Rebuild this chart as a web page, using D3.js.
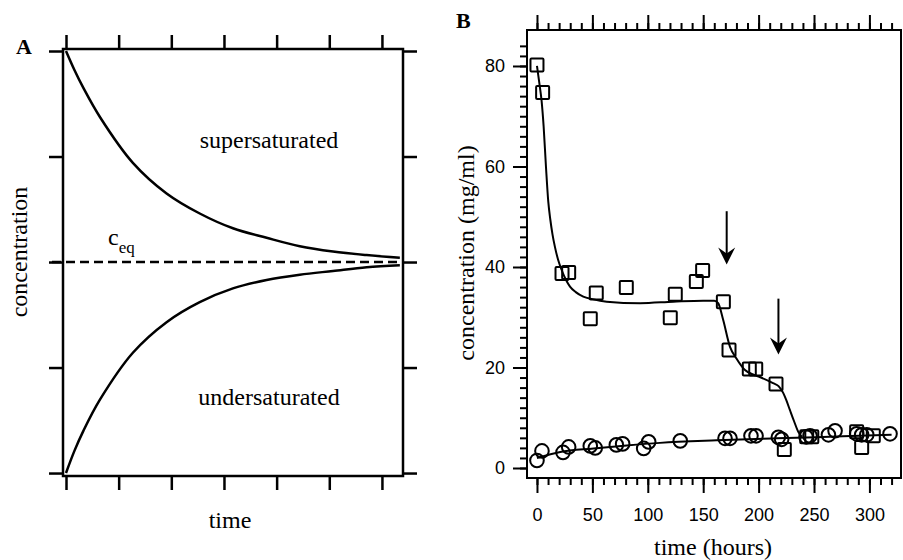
<!DOCTYPE html>
<html>
<head>
<meta charset="utf-8">
<script src="https://cdn.jsdelivr.net/npm/d3@7"></script>
<style>
  body { margin: 0; background: #fff; }
  svg { display: block; background: #fff; }
  .serif { font-family: "Liberation Serif", "Times New Roman", serif; fill: #000; }
  .tick text { font-family: "Liberation Sans", Arial, sans-serif; font-size: 18px; fill: #000; }
  .tick line { stroke: #000; }
</style>
</head>
<body>
<svg id="chart" width="903" height="560"></svg>
<script>
// ---- panel A (schematic) ----
const aTicksX = [0, 1, 2, 3, 4, 5, 6];
const aTicksY = [-2, -1, 0, 1, 2];
const superCurve = [[0, 2.0], [0.16, 1.82], [0.33, 1.65], [0.65, 1.37], [1.27, 0.94], [1.91, 0.65], [2.54, 0.46],
  [3.17, 0.32], [3.81, 0.23], [4.44, 0.15], [5.07, 0.10], [5.71, 0.066], [6.34, 0.04]];
const underCurve = [[0, -2.0], [0.16, -1.79], [0.33, -1.6], [0.65, -1.3], [1.27, -0.86], [1.91, -0.57], [2.54, -0.38],
  [3.17, -0.25], [3.81, -0.17], [4.44, -0.12], [5.07, -0.085], [5.71, -0.05], [6.34, -0.03]];
const ceqLevel = 0;

// ---- panel B (measured), time in hours, concentration in mg/ml ----
const squares = [[0, 80.2], [5.1, 74.7], [22.6, 38.7], [28.6, 38.9], [48.1, 29.7], [53.5, 34.8], [80.6, 35.9],
  [120.3, 29.9], [124.8, 34.6], [143.8, 37.1], [149.5, 39.3], [168.2, 33.1], [173.3, 23.5], [191.6, 19.7],
  [197.4, 19.7], [215.7, 16.7], [223.2, 3.7], [243.4, 6.2], [248, 6.2], [288.5, 7.2], [293, 4.1], [303.5, 6.4]];
const circles = [[0, 1.5], [4.5, 3.4], [23.5, 3.1], [28.6, 4.2], [48.1, 4.4], [52.6, 4.0], [71.6, 4.6], [77.3, 4.8],
  [96.3, 3.9], [100.8, 5.2], [129.3, 5.4], [169.7, 5.9], [174.2, 5.9], [193.1, 6.4], [197.7, 6.4], [217.8, 6.1],
  [220.8, 5.7], [242.8, 6.2], [246.4, 6.4], [263, 6.6], [269, 7.4], [288.5, 6.8], [293, 6.6], [297.6, 6.6], [318.6, 6.8]];
const squareFit = [[0, 80], [2.2, 76.5], [4.2, 73], [6, 68], [8.1, 60], [10.2, 53], [12, 49.5], [14, 46.5],
  [16.2, 44], [19, 41.5], [22.3, 39.4], [26, 37.5], [29.8, 36.1], [35, 35], [41.8, 34.1], [50, 33.6], [62.9, 33.1],
  [93, 32.8], [123, 33.1], [150, 33.3], [160, 33.3], [163.5, 32.8], [168, 29.5], [174.2, 24.1], [180, 21.8],
  [187.7, 19.5], [195, 18.6], [201, 18.1], [213, 16.9], [218, 16.3], [222.3, 14.9], [225, 13.5], [228.3, 11.5],
  [232, 9.3], [235.8, 7.2], [239, 6.2]];
const circleFit = [[0, 2.0], [21, 3.2], [51, 3.9], [81, 4.5], [111, 5.0], [162, 5.5], [216, 5.9], [276, 6.3], [320, 6.6]];
const arrows = [[171.2, 51.1, 40.5], [217.9, 33.7, 22.6]]; // [time, tail, tip]
const bMajorX = [0, 50, 100, 150, 200, 250, 300];
const bMinorX = d3.range(0, 321, 10);
const bMajorY = [0, 20, 40, 60, 80];
const bMinorY = d3.range(0, 85, 2);

const svg = d3.select("#chart");

// ================= panel A =================
const ax = d3.scaleLinear().domain([-0.057, 6.4]).range([63, 403]);
const ay = d3.scaleLinear().domain([-2.028, 2.019]).range([476, 49]);
const gA = svg.append("g");

const axisA = [
  [d3.axisTop(ax), "translate(0,49)", aTicksX],
  [d3.axisBottom(ax), "translate(0,476)", aTicksX],
  [d3.axisLeft(ay), "translate(63,0)", aTicksY],
  [d3.axisRight(ay), "translate(403,0)", aTicksY]
];
axisA.forEach(([axis, tr, vals]) => {
  const g = gA.append("g").attr("transform", tr)
    .call(axis.tickValues(vals).tickSize(14).tickFormat(""));
  g.select(".domain").remove();
  g.selectAll(".tick line").attr("stroke-width", 2.5);
});

// equilibrium level
gA.append("line")
  .attr("x1", 52).attr("x2", ax(6.34))
  .attr("y1", ay(ceqLevel)).attr("y2", ay(ceqLevel))
  .attr("stroke", "#000").attr("stroke-width", 2.5)
  .attr("stroke-dasharray", "9,5");

const lineA = d3.line().x(d => ax(d[0])).y(d => ay(d[1])).curve(d3.curveCatmullRom);
[superCurve, underCurve].forEach(c => {
  gA.append("path").attr("d", lineA(c))
    .attr("fill", "none").attr("stroke", "#000").attr("stroke-width", 2.5);
});

gA.append("rect").attr("x", 63).attr("y", 49).attr("width", 340).attr("height", 427)
  .attr("fill", "none").attr("stroke", "#000").attr("stroke-width", 2.5);

gA.append("text").attr("class", "serif").attr("x", 16).attr("y", 54)
  .attr("font-size", 22).attr("font-weight", "bold").text("A");
gA.append("text").attr("class", "serif").attr("x", 269).attr("y", 148)
  .attr("text-anchor", "middle").attr("font-size", 24).text("supersaturated");
gA.append("text").attr("class", "serif").attr("x", 269).attr("y", 405)
  .attr("text-anchor", "middle").attr("font-size", 24).text("undersaturated");
const ceq = gA.append("text").attr("class", "serif").attr("x", 108).attr("y", 245).attr("font-size", 24);
ceq.append("tspan").text("c");
ceq.append("tspan").attr("font-size", 17).attr("dy", 8).text("eq");
gA.append("text").attr("class", "serif").attr("x", 230).attr("y", 528)
  .attr("text-anchor", "middle").attr("font-size", 24).text("time");
gA.append("text").attr("class", "serif")
  .attr("transform", "translate(27,252) rotate(-90)")
  .attr("text-anchor", "middle").attr("font-size", 24).text("concentration");

// ================= panel B =================
const bx = d3.scaleLinear().domain([-9.0, 328.5]).range([527, 901]);
const by = d3.scaleLinear().domain([-1.99, 87.16]).range([478, 30]);
const gB = svg.append("g");

function tickAxis(axis, tr, vals, size, labels, pad) {
  const g = gB.append("g").attr("transform", tr)
    .call(axis.tickValues(vals).tickSize(size).tickPadding(pad || 3)
      .tickFormat(labels ? d3.format("d") : ""));
  g.select(".domain").remove();
  g.selectAll(".tick line").attr("stroke-width", 2);
  return g;
}
tickAxis(d3.axisBottom(bx), "translate(0,478)", bMinorX, 7, false);
tickAxis(d3.axisBottom(bx), "translate(0,478)", bMajorX, 15, true, 15);
tickAxis(d3.axisTop(bx), "translate(0,30)", bMinorX, 7, false);
tickAxis(d3.axisTop(bx), "translate(0,30)", bMajorX, 15, false);
tickAxis(d3.axisLeft(by), "translate(527,0)", bMinorY, 7, false);
tickAxis(d3.axisLeft(by), "translate(527,0)", bMajorY, 14, true, 8);

const lineB = d3.line().x(d => bx(d[0])).y(d => by(d[1])).curve(d3.curveMonotoneX);
[squareFit, circleFit].forEach(c => {
  gB.append("path").attr("d", lineB(c))
    .attr("fill", "none").attr("stroke", "#000").attr("stroke-width", 2);
});

gB.selectAll(".sq").data(squares).enter().append("rect")
  .attr("class", "sq")
  .attr("x", d => bx(d[0]) - 6.5).attr("y", d => by(d[1]) - 6.5)
  .attr("width", 13).attr("height", 13).attr("rx", 1)
  .attr("fill", "none").attr("stroke", "#000").attr("stroke-width", 2);

gB.selectAll(".ci").data(circles).enter().append("circle")
  .attr("class", "ci")
  .attr("cx", d => bx(d[0])).attr("cy", d => by(d[1])).attr("r", 6.8)
  .attr("fill", "none").attr("stroke", "#000").attr("stroke-width", 2);

arrows.forEach(([t, c0, c1]) => {
  const x = bx(t), y0 = by(c0), y1 = by(c1);
  gB.append("line").attr("x1", x).attr("x2", x).attr("y1", y0).attr("y2", y1 - 8)
    .attr("stroke", "#000").attr("stroke-width", 2);
  gB.append("path")
    .attr("d", `M${x},${y1} L${x - 8.5},${y1 - 17} L${x},${y1 - 11} L${x + 8.5},${y1 - 17} Z`)
    .attr("fill", "#000");
});

gB.append("rect").attr("x", 527).attr("y", 30).attr("width", 374).attr("height", 448)
  .attr("fill", "none").attr("stroke", "#000").attr("stroke-width", 2);

gB.append("text").attr("class", "serif").attr("x", 456).attr("y", 28)
  .attr("font-size", 22).attr("font-weight", "bold").text("B");
gB.append("text").attr("class", "serif").attr("x", 713).attr("y", 555)
  .attr("text-anchor", "middle").attr("font-size", 24).text("time (hours)");
gB.append("text").attr("class", "serif")
  .attr("transform", "translate(474,253) rotate(-90)")
  .attr("text-anchor", "middle").attr("font-size", 24).text("concentration (mg/ml)");
</script>
</body>
</html>
